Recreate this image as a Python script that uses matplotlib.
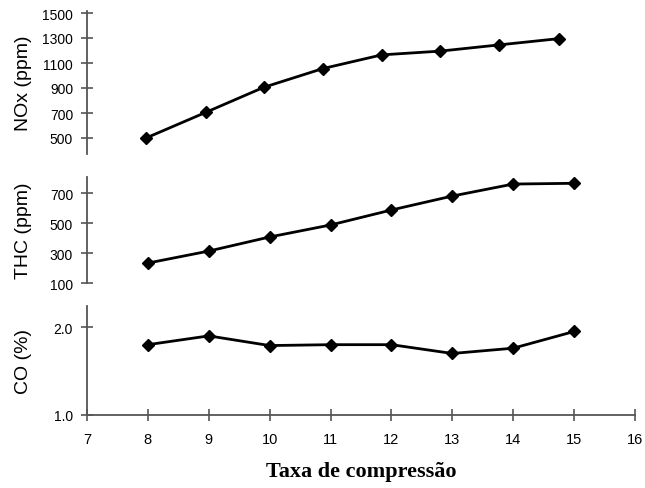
import matplotlib
matplotlib.use("Agg")
import matplotlib.pyplot as plt

# Data
nox_x = [7.97, 8.95, 9.9, 10.87, 11.84, 12.8, 13.77, 14.75]
nox_y = [500, 705, 905, 1055, 1165, 1195, 1245, 1295]

thc_x = [8, 9, 10, 11, 12, 13, 14, 15]
thc_y = [233, 313, 407, 487, 587, 680, 760, 765]

co_x = [8, 9, 10, 11, 12, 13, 14, 15]
co_y = [1.80, 1.90, 1.79, 1.80, 1.80, 1.70, 1.76, 1.95]

x_ticks = [7, 8, 9, 10, 11, 12, 13, 14, 15, 16]
nox_ticks = [500, 700, 900, 1100, 1300, 1500]
thc_ticks = [100, 300, 500, 700]
co_ticks = [1.0, 2.0]
co_ticklabels = ["1.0", "2.0"]

plt.rcParams['font.family'] = ['Liberation Sans', 'DejaVu Sans']

W, H = 645, 489
fig = plt.figure(figsize=(W / 100, H / 100), dpi=100)

def frac(top_px, bot_px):
    return 1 - bot_px / H, (bot_px - top_px) / H

left = 87 / W
width = (635 - 87) / W
spine_col = '#555555'

def style(ax, xaxis):
    for s in ['top', 'right']:
        ax.spines[s].set_visible(False)
    ax.spines['left'].set_color(spine_col)
    ax.spines['left'].set_linewidth(1.3)
    if xaxis:
        ax.spines['bottom'].set_color(spine_col)
        ax.spines['bottom'].set_linewidth(1.3)
        ax.tick_params(axis='x', direction='inout', length=8, width=1.2,
                       color=spine_col, labelsize=10.5, pad=8)
    else:
        ax.spines['bottom'].set_visible(False)
        ax.set_xticks([])
    ax.tick_params(axis='y', direction='inout', length=8, width=1.2,
                   color=spine_col, labelsize=10, pad=6)
    ax.set_xlim(7, 16)
    ax.patch.set_alpha(0)

line_kw = dict(color='black', lw=2.0, marker='D', markersize=6,
               markerfacecolor='black', markeredgecolor='black', clip_on=False)

# NOx
b, h = frac(12, 155)
ax1 = fig.add_axes([left, b, width, h])
ax1.plot(nox_x, nox_y, **line_kw)
ax1.set_ylim(372, 1516)
ax1.set_yticks(nox_ticks)
style(ax1, False)
ax1.set_ylabel("NOx (ppm)", fontsize=14)

# THC
b, h = frac(178, 284)
ax2 = fig.add_axes([left, b, width, h])
ax2.plot(thc_x, thc_y, **line_kw)
ax2.set_ylim(100, 807)
ax2.set_yticks(thc_ticks)
style(ax2, False)
ax2.set_ylabel("THC (ppm)", fontsize=14)

# CO
b, h = frac(307, 416)
ax3 = fig.add_axes([left, b, width, h])
ax3.plot(co_x, co_y, **line_kw)
ax3.set_ylim(1.0, 2.24)
ax3.set_yticks(co_ticks)
ax3.set_yticklabels(co_ticklabels)
style(ax3, True)
ax3.set_xticks(x_ticks)
ax3.set_ylabel("CO (%)", fontsize=14)

fig.text(361 / W, 1 - 472 / H, "Taxa de compressão", ha='center', va='center',
         fontsize=16, fontweight='bold', family=['Liberation Serif', 'DejaVu Serif'])

# align y labels horizontally
for ax in (ax1, ax2, ax3):
    ax.yaxis.set_label_coords(-0.1, 0.5)

fig.savefig("out.png", dpi=100)
